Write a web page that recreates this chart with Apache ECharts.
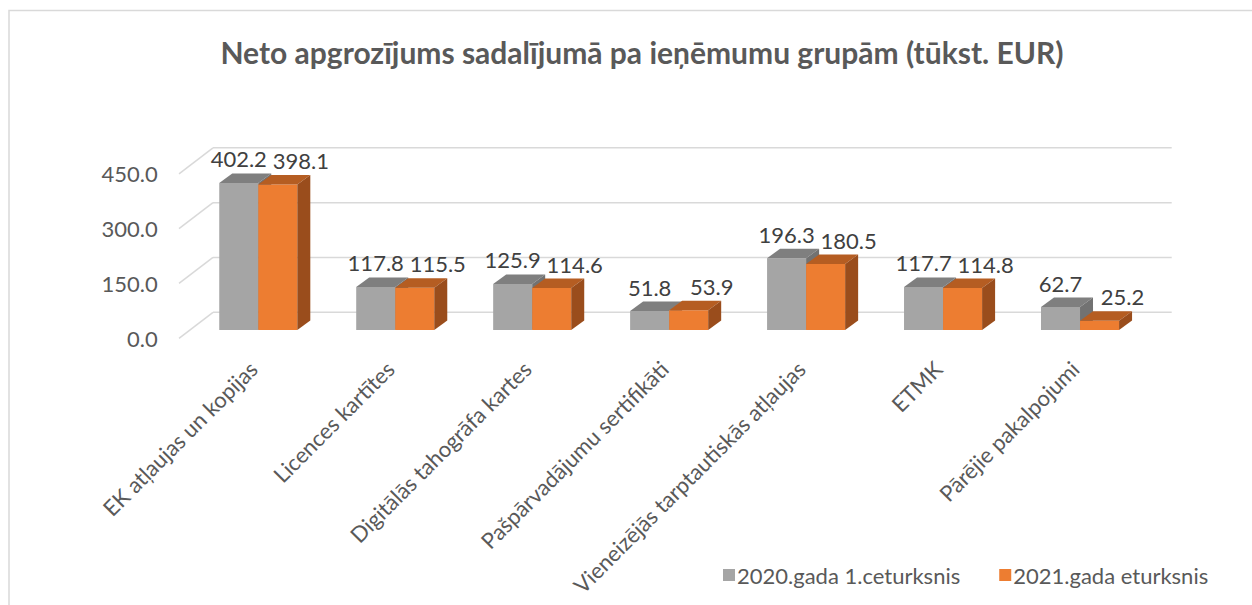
<!DOCTYPE html>
<html>
<head>
<meta charset="utf-8">
<script src="https://cdn.jsdelivr.net/npm/echarts@6/dist/echarts.min.js"></script>
<style>
html,body{margin:0;padding:0;background:#fff;}
#chart{width:1252px;height:605px;}
</style>
</head>
<body>
<div id="chart"></div>
<script>
const categories = ['EK atļaujas un kopijas','Licences kartītes','Digitālās tahogrāfa kartes','Pašpārvadājumu sertifikāti','Vieneizējās tarptautiskās atļaujas','ETMK','Pārējie pakalpojumi'];
const values2020 = [402.2,117.8,125.9,51.8,196.3,117.7,62.7];
const values2021 = [398.1,115.5,114.6,53.9,180.5,114.8,25.2];
const yTicks = [0,150,300,450];
const seriesNames = ['2020.gada 1.ceturksnis','2021.gada eturksnis'];

const FONT = 'Lato';
const TXT = '#595959';
const WALL = {dx: 23.2, dy: -17.7};
const FRONT = {dx: -10.8, dy: 8.3};
const DEPTH = {dx: 13, dy: -9.5};
const faces = [
  {front:'#A5A5A5', top:'#7F7F7F', side:'#727272'},
  {front:'#ED7D31', top:'#B55D22', side:'#9A4D1C'}
];

function barRenderer(k){
  return function(params, api){
    const idx = api.value(0), val = api.value(1);
    const base = api.coord([idx, 0]);
    const top = api.coord([idx, val]);
    const band = api.size([1,0])[0];
    const w = band*0.285;
    const x0 = base[0] + (k===0 ? -w : 0), x1 = x0 + w;
    const yb = base[1], yt = top[1];
    const c = faces[k];
    return {
      type:'group',
      children:[
        {type:'rect', shape:{x:x0,y:yt,width:w,height:yb-yt}, style:{fill:c.front}},
        {type:'polygon', shape:{points:[[x0,yt],[x1,yt],[x1+DEPTH.dx,yt+DEPTH.dy],[x0+DEPTH.dx,yt+DEPTH.dy]]}, style:{fill:c.top}},
        {type:'polygon', shape:{points:[[x1,yt],[x1+DEPTH.dx,yt+DEPTH.dy],[x1+DEPTH.dx,yb+DEPTH.dy],[x1,yb]]}, style:{fill:c.side}},
        {type:'text', x: x0 + w/2 + (k===0?0:23), y: yt - 24,
          style:{text: val.toFixed(1), fill:'#404040', font:'22px '+FONT, align:'center', verticalAlign:'middle'}}
      ]
    };
  };
}

function gridRenderer(params, api){
  const v = api.value(1);
  const y = api.coord([0, v])[1];
  const cs = params.coordSys;
  const stroke = {stroke:'#D9D9D9', lineWidth:1.5};
  return {
    type:'group',
    children:[
      {type:'line', shape:{x1:cs.x+WALL.dx, y1:y+WALL.dy, x2:cs.x+cs.width+WALL.dx, y2:y+WALL.dy}, style:stroke},
      {type:'line', shape:{x1:cs.x+FRONT.dx, y1:y+FRONT.dy, x2:cs.x+WALL.dx, y2:y+WALL.dy}, style:stroke}
    ]
  };
}

const chart = echarts.init(document.getElementById('chart'), null, {renderer:'svg'});
chart.setOption({
  animation:false,
  backgroundColor:'#fff',
  textStyle:{fontFamily:FONT},
  graphic:[{type:'rect', shape:{x:9,y:10.5,width:1400,height:800}, style:{fill:'none', stroke:'#D9D9D9', lineWidth:1.5}, silent:true, z:-10}],
  title:{text:'Neto apgrozījums sadalījumā pa ieņēmumu grupām (tūkst. EUR)', left:637, textAlign:'center', top:32,
    textStyle:{fontFamily:FONT, fontSize:30, fontWeight:'bold', color:TXT}},
  legend:{data:seriesNames, left:718, top:559, itemWidth:12, itemHeight:12, itemGap:39, icon:'rect',
    textStyle:{fontFamily:FONT, fontSize:22, color:TXT, padding:[0,0,0,-3]}},
  grid:{left:189.8, right:103.5, top:165.5, bottom:275},
  xAxis:{type:'category', data:categories, axisLine:{show:false}, axisTick:{show:false}, splitLine:{show:false},
    axisLabel:{interval:0, rotate:45, margin:30, color:TXT,
      formatter:function(v){return '{c|'+v+'}';},
      rich:{c:{fontFamily:FONT, fontSize:22, color:TXT, padding:[0,7,0,0]}}}},
  yAxis:{type:'value', min:0, max:450, interval:150, axisLine:{show:false}, axisTick:{show:false}, splitLine:{show:false},
    axisLabel:{margin:32, formatter:function(v){return '{a|'+v.toFixed(1)+'}';},
      rich:{a:{fontFamily:FONT, fontSize:22, color:TXT, padding:[16,0,0,0]}}}},
  series:[
    {type:'custom', name:'grid', renderItem:gridRenderer, data:yTicks.map(v=>[0,v]), z:1, silent:true},
    {type:'custom', name:seriesNames[0], renderItem:barRenderer(0), data:values2020.map((v,i)=>[i,v]), itemStyle:{color:faces[0].front}, z:2},
    {type:'custom', name:seriesNames[1], renderItem:barRenderer(1), data:values2021.map((v,i)=>[i,v]), itemStyle:{color:faces[1].front}, z:3}
  ]
});
</script>
</body>
</html>
